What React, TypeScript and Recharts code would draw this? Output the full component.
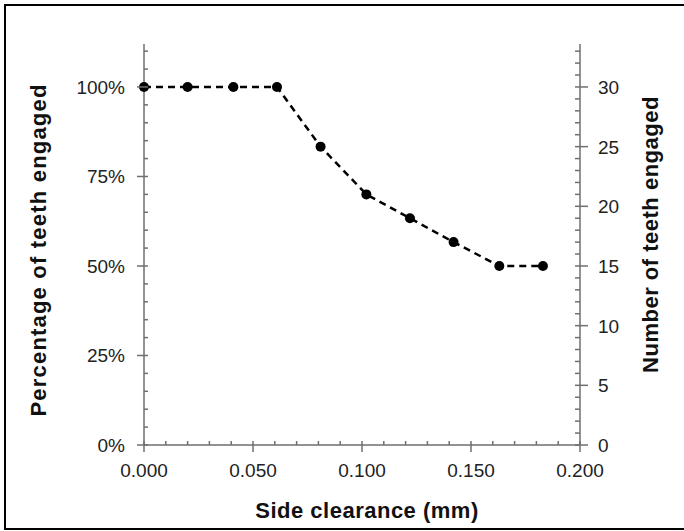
import { LineChart, Line, XAxis, YAxis, Label } from "recharts";

// side clearance (mm) vs teeth engaged (out of 30)
const clearanceMm = [0, 0.02, 0.041, 0.061, 0.081, 0.102, 0.122, 0.142, 0.163, 0.183];
const teethEngaged = [30, 30, 30, 30, 25, 21, 19, 17, 15, 15];

const xMajorTicks = [0, 0.05, 0.1, 0.15, 0.2];
const pctMajorTicks = [0, 0.25, 0.5, 0.75, 1];
const countMajorTicks = [0, 5, 10, 15, 20, 25, 30];

const xTitle = "Side clearance (mm)";
const leftTitle = "Percentage of teeth engaged";
const rightTitle = "Number of teeth engaged";

const data = clearanceMm.map((c, i) => ({ clearance: c, teeth: teethEngaged[i] }));

const range = (max: number, step: number) => {
  const out: number[] = [];
  for (let i = 0; i * step <= max + 1e-9; i++) out.push(+(i * step).toFixed(4));
  return out;
};
const xAllTicks = range(0.2, 0.01);
const pctAllTicks = range(1.1, 0.05);
const countAllTicks = range(33, 1);
const isMajor = (v: number, majors: number[]) => majors.some((m) => Math.abs(m - v) < 1e-6);

const FONT = '"Liberation Sans", Arial, Helvetica, sans-serif';
const AXIS = "#6f6f6f";
const TEXT = "#222";

function LeftTick({ x, y, payload }: any) {
  const major = isMajor(payload.value, pctMajorTicks);
  return (
    <g>
      <line x1={major ? x - 7 : x} x2={x + 4} y1={y} y2={y} stroke={AXIS} strokeWidth={1.5} />
      {major && (
        <text x={x - 19} y={y + 7} textAnchor="end" fontSize={19} fill={TEXT} fontFamily={FONT}>
          {Math.round(payload.value * 100)}%
        </text>
      )}
    </g>
  );
}

function RightTick({ x, y, payload }: any) {
  const major = isMajor(payload.value, countMajorTicks);
  return (
    <g>
      <line x1={x - 5} x2={major ? x + 8 : x} y1={y} y2={y} stroke={AXIS} strokeWidth={1.5} />
      {major && (
        <text x={x + 18} y={y + 7} textAnchor="start" fontSize={19} fill={TEXT} fontFamily={FONT}>
          {payload.value}
        </text>
      )}
    </g>
  );
}

function BottomTick({ x, y, payload }: any) {
  const major = isMajor(payload.value, xMajorTicks);
  return (
    <g>
      <line x1={x} x2={x} y1={y - 4} y2={major ? y + 7 : y} stroke={AXIS} strokeWidth={1.5} />
      {major && (
        <text x={x} y={y + 32} textAnchor="middle" fontSize={19} fill={TEXT} fontFamily={FONT}>
          {payload.value.toFixed(3)}
        </text>
      )}
    </g>
  );
}

const titleStyle = { fontSize: 22, fontWeight: 700, fill: "#111", fontFamily: FONT };

function VTitle({ viewBox, value, dx, dy, spacing }: any) {
  const cx = viewBox.x + dx;
  const cy = viewBox.y + viewBox.height / 2 + dy;
  return (
    <text x={cx} y={cy} transform={`rotate(-90 ${cx} ${cy})`} textAnchor="middle" letterSpacing={spacing} {...titleStyle}>
      {value}
    </text>
  );
}

function XTitle({ viewBox, value }: any) {
  const cx = viewBox.x + viewBox.width / 2 + 5;
  return (
    <text x={cx} y={viewBox.y + 73} textAnchor="middle" letterSpacing={0.5} {...titleStyle}>
      {value}
    </text>
  );
}

export default function App() {
  return (
    <div style={{ position: "fixed", left: 0, top: 0, width: 684, height: 531, overflow: "hidden", background: "#fff" }}>
      <div style={{ position: "absolute", left: 0, top: 0 }}>
        <LineChart width={684} height={531} data={data} margin={{ top: 44, right: 0, bottom: 0, left: 0 }}>
          <XAxis
            type="number"
            dataKey="clearance"
            domain={[0, 0.2]}
            ticks={xAllTicks}
            interval={0}
            allowDataOverflow
            height={86}
            tickSize={0}
            tickMargin={0}
            tickLine={false}
            axisLine={{ stroke: AXIS, strokeWidth: 1.5 }}
            tick={<BottomTick />}
          >
            <Label content={(p: any) => <XTitle {...p} value={xTitle} />} />
          </XAxis>
          <YAxis
            yAxisId="pct"
            orientation="left"
            type="number"
            domain={[0, 1.12]}
            ticks={pctAllTicks}
            interval={0}
            allowDataOverflow
            width={144}
            tickSize={0}
            tickMargin={0}
            tickLine={false}
            axisLine={{ stroke: AXIS, strokeWidth: 1.5 }}
            tick={<LeftTick />}
          >
            <Label content={(p: any) => <VTitle {...p} value={leftTitle} dx={46} dy={5.5} spacing={1.2} />} />
          </YAxis>
          <YAxis
            yAxisId="count"
            orientation="right"
            type="number"
            domain={[0, 33.6]}
            ticks={countAllTicks}
            interval={0}
            allowDataOverflow
            width={104}
            tickSize={0}
            tickMargin={0}
            tickLine={false}
            axisLine={{ stroke: AXIS, strokeWidth: 1.5 }}
            tick={<RightTick />}
          >
            <Label content={(p: any) => <VTitle {...p} value={rightTitle} dx={78} dy={-10} spacing={0.5} />} />
          </YAxis>
          <Line
            yAxisId="count"
            type="linear"
            dataKey="teeth"
            stroke="#000"
            strokeWidth={2.5}
            strokeDasharray="7 5"
            dot={{ r: 5, fill: "#000", stroke: "#000", strokeWidth: 0, strokeDasharray: "", clipDot: false }}
            isAnimationActive={false}
          />
        </LineChart>
      </div>
      <div
        style={{
          position: "absolute",
          left: 4,
          top: 4,
          width: 720,
          height: 526,
          border: "2px solid #000",
          boxSizing: "border-box",
          pointerEvents: "none",
        }}
      />
    </div>
  );
}
